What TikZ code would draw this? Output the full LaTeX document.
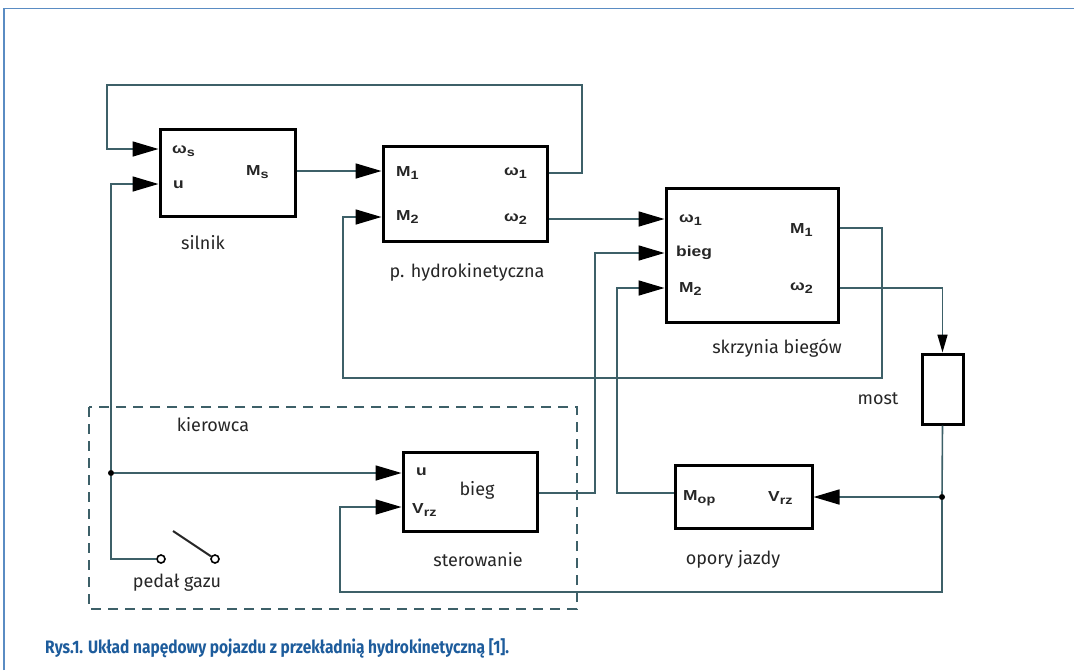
\documentclass[tikz,border=0pt]{standalone}
\usepackage{fontspec}
\setmainfont{Fira Sans}
\newfontfamily\lblfont[FakeStretch=1.2]{Liberation Sans}
\newfontfamily\capfont[FakeStretch=0.86]{Fira Sans}
\usetikzlibrary{arrows.meta,calc}
\definecolor{conn}{HTML}{3D6068}
\definecolor{framec}{HTML}{5A8CC3}
\definecolor{capc}{HTML}{1D5C9C}
\newcommand\sbs[1]{\raisebox{-0.4ex}{\fontsize{12}{12}\selectfont #1}}
\tikzset{
  blk/.style={draw=black, line width=3pt, minimum width=#1, inner sep=0pt},
  lbl/.style={anchor=west, inner sep=0pt, font=\lblfont\bfseries\fontsize{14.5}{14.5}\selectfont, text=black!85},
  txt/.style={inner sep=0pt, font=\fontsize{18}{18}\selectfont, text=black!85},
  wire/.style={draw=conn, line width=1.6pt},
  arr/.style={wire, -{Triangle[length=26pt,width=15pt,color=black]}},
  sarr/.style={wire, -{Triangle[length=18pt,width=10pt,color=black]}},
  dot/.style={circle, fill=black, inner sep=0pt, minimum size=6pt},
  term/.style={circle, draw=black, line width=1.6pt, inner sep=0pt, minimum size=8pt},
}
\begin{document}
\begin{tikzpicture}[x=1pt,y=-1pt]
\useasboundingbox (0,0) rectangle (1074,670);
\fill[white] (0,0) rectangle (1074,670);
\draw[framec, line width=1.5pt] (4,670) -- (4,8.5) -- (1074,8.5);

% blocks
\node[blk=135pt, minimum height=87pt] (sil) at (227.5,172.5) {};
\node[blk=164pt, minimum height=95pt] (hyd) at (465,193.5) {};
\node[blk=172pt, minimum height=134pt] (skr) at (752,255) {};
\node[blk=41pt, minimum height=70pt] (most) at (942.5,389) {};
\node[blk=137pt, minimum height=63pt] (opo) at (743.5,496.5) {};
\node[blk=134pt, minimum height=79pt] (ster) at (470,491.5) {};
\draw[draw=conn, line width=1.6pt, dash pattern=on 10pt off 7pt] (89,407) rectangle (577,609);

% block labels
\node[lbl] (l1) at (172,151) {ω\sbs{s}};
\node[lbl] (l2) at (173,185) {u};
\node[lbl] (l3) at (246,172) {M\sbs{s}};
\node[lbl] (l4) at (396,173) {M\sbs{1}};
\node[lbl] (l5) at (396,217) {M\sbs{2}};
\node[lbl] (l6) at (504,173) {ω\sbs{1}};
\node[lbl] (l7) at (504,219) {ω\sbs{2}};
\node[lbl] (l8) at (679,220) {ω\sbs{1}};
\node[lbl] (l9) at (676,253) {bieg};
\node[lbl] (l10) at (679,289) {M\sbs{2}};
\node[lbl] (l11) at (790,230) {M\sbs{1}};
\node[lbl] (l12) at (790,288) {ω\sbs{2}};
\node[lbl] (l13) at (416,472) {u};
\node[lbl] (l14) at (412,510) {V\sbs{rz}};
\node[lbl] (l15) at (683,498) {M\sbs{op}};
\node[lbl] (l16) at (768,498) {V\sbs{rz}};

% descriptive labels
\node[txt] (t1) at (203,243) {silnik};
\node[txt] (t2) at (467,272) {p. hydrokinetyczna};
\node[txt] (t3) at (777,348) {skrzynia biegów};
\node[txt] (t4) at (878,399) {most};
\node[txt] (t5) at (213,425) {kierowca};
\node[txt] (t6) at (477,490) {bieg};
\node[txt] (t7) at (478,560) {sterowanie};
\node[txt] (t8) at (733,559) {opory jazdy};
\node[txt] (t9) at (177,583) {pedał gazu};

% ports
\coordinate (hw1) at (hyd.east |- 0,173);
\coordinate (hw2) at (hyd.east |- 0,219);
\coordinate (hm1) at (hyd.west |- 0,171);
\coordinate (hm2) at (hyd.west |- 0,217);
\coordinate (sws) at (sil.west |- 0,149);
\coordinate (su) at (sil.west |- 0,184);
\coordinate (sms) at (sil.east |- 0,171);
\coordinate (kw1) at (skr.west |- 0,219);
\coordinate (kb) at (skr.west |- 0,253);
\coordinate (km2) at (skr.west |- 0,288);
\coordinate (km1o) at (skr.east |- 0,228);
\coordinate (kw2o) at (skr.east |- 0,288);
\coordinate (tu) at (ster.west |- 0,473);
\coordinate (tv) at (ster.west |- 0,507);
\coordinate (tout) at (ster.east |- 0,493);
\coordinate (omop) at (opo.west |- 0,493);
\coordinate (ovrz) at (opo.east |- 0,497);
\node[dot] (j1) at (111,473) {};
\node[dot] (j2) at (942,497) {};
\node[term] (p1) at (161,559) {};
\node[term] (p2) at (215,559) {};
\coordinate (sw) at (173,531);

% connectors
\draw[arr] (hw1) -- (582,173) -- (582,85) -- (107,85) |- (sws);
\draw[arr] (sms) -- (hm1);
\draw[arr] (j1) |- (su);
\draw[wire] (j1) |- (p1);
\draw[line width=2pt, black!85] (sw) -- (p2);
\draw[arr] (j1) -- (tu);
\draw[arr] (hw2) -- (kw1);
\draw[arr] (km1o) -- (882,228) -- (882,378) -- (343,378) |- (hm2);
\draw[sarr] (kw2o) -| (most.north);
\draw[wire] (most.south) -- (j2);
\draw[arr] (j2) -- (942,592) -- (340,592) |- (tv);
\draw[arr] (j2) -- (ovrz);
\draw[arr] (omop) -- (617,493) |- (km2);
\draw[arr] (tout) -- (595,493) |- (kb);

% caption
\node[anchor=west, inner sep=0pt, text=capc, font=\capfont\bfseries\fontsize{18}{18}\selectfont] (cap) at (45,648) {Rys.1. Układ napędowy pojazdu z przekładnią hydrokinetyczną [1].};
\end{tikzpicture}
\end{document}
